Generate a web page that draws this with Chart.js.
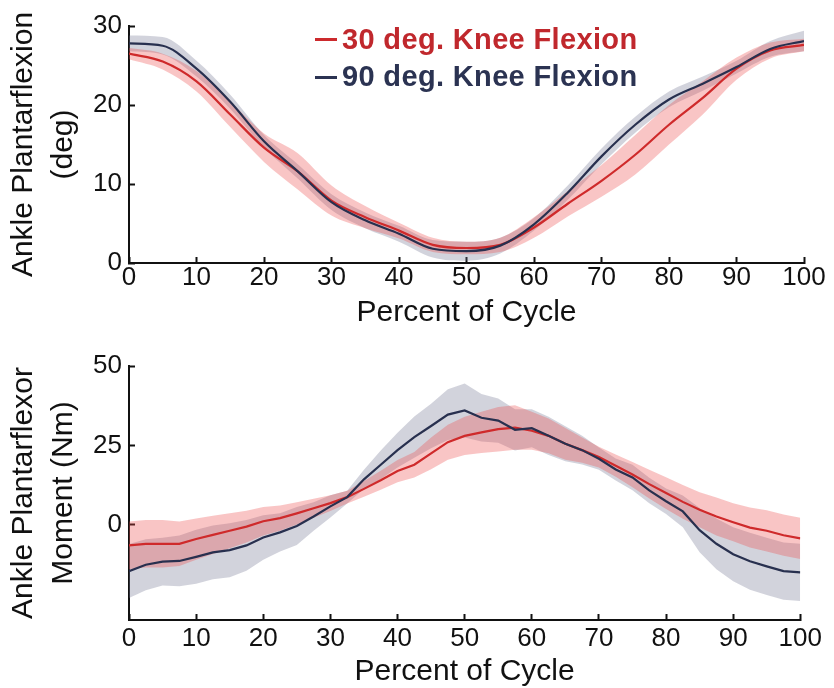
<!DOCTYPE html>
<html>
<head>
<meta charset="utf-8">
<script src="https://cdn.jsdelivr.net/npm/chart.js@4.4.0/dist/chart.umd.min.js"></script>
<style>
    body { margin: 0; background: #fff; }
    #wrap { position: relative; width: 834px; height: 688px; overflow: hidden; font-family: "Liberation Sans", Arial, sans-serif; }
    canvas { position: absolute; left: 0; }
    #top-chart { top: 0; }
    #bottom-chart { top: 340px; }
    .leg { position: absolute; left: 342px; font-weight: bold; font-size: 29px; line-height: 29px; letter-spacing: 0.35px; white-space: nowrap; }
    .mark { position: absolute; left: 315px; width: 22px; height: 3px; }
</style>
</head>
<body>
<div id="wrap">
    <canvas id="top-chart" width="834" height="340"></canvas>
    <canvas id="bottom-chart" width="834" height="348"></canvas>
    <div class="mark" style="top:38px; background:#cc2a2d"></div>
    <div class="leg" style="top:25px; color:#c0282d">30 deg. Knee Flexion</div>
    <div class="mark" style="top:76px; background:#2b3352"></div>
    <div class="leg" style="top:62px; color:#2b3352">90 deg. Knee Flexion</div>
</div>
<script>
// Percent of cycle samples
const pctTop = [0, 5, 10, 15, 20, 25, 30, 35, 40, 45, 50, 55, 60, 65, 70, 75, 80, 85, 90, 95, 100];
const pctBottom = [0, 2.5, 5, 7.5, 10, 12.5, 15, 17.5, 20, 22.5, 25, 27.5, 30, 32.5, 35, 37.5, 40, 42.5, 45, 47.5,
    50, 52.5, 55, 57.5, 60, 62.5, 65, 67.5, 70, 72.5, 75, 77.5, 80, 82.5, 85, 87.5, 90, 92.5, 95, 97.5, 100];

// Ankle plantarflexion (deg): mean and SD
const angle30 = [26.5, 25.5, 23.0, 18.8, 14.6, 11.6, 7.9, 5.8, 4.1, 2.3, 1.9, 2.3, 4.5, 7.5, 10.4, 13.7, 17.5, 20.9, 24.6, 26.9, 27.6];
const angle90 = [27.8, 27.5, 24.6, 20.4, 15.4, 11.6, 7.7, 5.4, 3.7, 1.8, 1.5, 2.2, 4.9, 8.9, 13.5, 17.5, 20.7, 22.7, 24.8, 27.1, 28.1];
const angleSd30 = [0.7, 1.0, 1.3, 1.6, 1.8, 2.3, 1.9, 1.4, 1.0, 0.9, 0.8, 0.9, 1.3, 1.6, 2.0, 2.5, 2.5, 2.1, 1.4, 1.0, 0.8];
const angleSd90 = [1.0, 1.1, 1.0, 0.9, 0.8, 0.9, 1.0, 1.0, 1.0, 1.1, 1.2, 1.0, 0.8, 0.9, 1.0, 1.0, 1.0, 0.9, 0.8, 1.0, 1.3];

// Ankle plantarflexor moment (Nm): mean and SD
const moment30 = [-6.5, -6.0, -6.0, -6.0, -4.5, -3.2, -1.9, -0.6, 1.1, 2.1, 3.6, 5.2, 6.8, 8.7, 11.3, 14.0, 16.9, 18.9, 22.5, 26.0,
    28.0, 29.1, 30.1, 30.6, 29.6, 28.0, 25.5, 23.5, 21.3, 18.6, 15.8, 12.8, 10.0, 7.2, 4.7, 2.6, 0.8, -0.9, -1.9, -3.3, -4.3];
const moment90 = [-14.6, -12.6, -11.6, -11.4, -10.1, -8.7, -8.0, -6.5, -4.0, -2.4, -0.4, 2.6, 5.8, 8.7, 14.3, 18.9, 23.5, 27.6, 31.1, 34.7,
    36.0, 33.7, 32.8, 29.9, 30.4, 28.0, 25.5, 23.5, 20.8, 17.4, 14.9, 10.8, 7.4, 4.2, -1.7, -6.0, -9.3, -11.5, -13.1, -14.6, -15.0];
const momentSd30 = [7.5, 7.5, 7.5, 7.0, 6.5, 6.0, 5.5, 5.0, 4.5, 4.0, 3.5, 3.0, 2.5, 2.0, 2.5, 3.0, 3.5, 4.0, 5.0, 5.5,
    6.0, 6.5, 7.0, 7.0, 6.0, 5.5, 5.0, 4.0, 3.3, 3.5, 4.0, 4.5, 5.0, 5.3, 5.5, 6.0, 6.0, 6.3, 6.5, 6.5, 6.5];
const momentSd90 = [8.5, 8.0, 7.5, 8.0, 8.5, 8.5, 8.5, 8.0, 7.0, 6.0, 6.0, 4.5, 3.5, 2.0, 3.0, 4.5, 5.5, 6.5, 7.0, 8.0,
    8.5, 7.5, 7.0, 6.5, 6.0, 6.0, 5.5, 4.5, 3.5, 3.5, 4.0, 4.0, 4.0, 5.0, 7.0, 8.0, 8.5, 9.0, 9.0, 9.0, 9.0];

// Tick labels
const pctTicks = [0, 10, 20, 30, 40, 50, 60, 70, 80, 90, 100];
const angleTicks = [0, 10, 20, 30];
const momentTicks = [0, 25, 50];

const RED = '#cf2a2b';
const NAVY = '#28304f';
const RED_BAND = 'rgba(235, 75, 75, 0.32)';
const NAVY_BAND = 'rgba(115, 118, 145, 0.32)';
const INK = '#111';
const FONT = '"Liberation Sans", Arial, sans-serif';

Chart.defaults.font.family = FONT;
Chart.defaults.color = INK;

const pts = (xs, ys) => xs.map((x, i) => ({ x: x, y: ys[i] }));
const shift = (ys, sd, sign) => ys.map((v, i) => v + sign * sd[i]);

function lineSet(xs, ys, color, smooth) {
    return {
        data: pts(xs, ys), borderColor: color, borderWidth: 2.2, pointRadius: 0,
        fill: false, cubicInterpolationMode: smooth ? 'monotone' : 'default', tension: 0
    };
}

function bandSets(xs, ys, sd, color, smooth) {
    const mode = smooth ? 'monotone' : 'default';
    return [
        { data: pts(xs, shift(ys, sd, 1)), borderWidth: 0, pointRadius: 0, backgroundColor: color, fill: '+1', cubicInterpolationMode: mode, tension: 0 },
        { data: pts(xs, shift(ys, sd, -1)), borderWidth: 0, pointRadius: 0, fill: false, cubicInterpolationMode: mode, tension: 0 }
    ];
}

function axisCommon() {
    return {
        border: { color: INK, width: 2 },
        grid: { drawOnChartArea: false, tickLength: -6, tickWidth: 2, tickColor: INK }
    };
}

function makeChart(id, opts) {
    const smooth = opts.smooth;
    const datasets = [
        lineSet(opts.xs, opts.mean90, NAVY, smooth),
        lineSet(opts.xs, opts.mean30, RED, smooth),
        ...bandSets(opts.xs, opts.mean30, opts.sd30, RED_BAND, smooth),
        ...bandSets(opts.xs, opts.mean90, opts.sd90, NAVY_BAND, smooth)
    ];
    return new Chart(document.getElementById(id).getContext('2d'), {
        type: 'line',
        data: { datasets: datasets },
        options: {
            responsive: false,
            animation: false,
            devicePixelRatio: 1,
            layout: { padding: { left: 0, right: 30, top: opts.padTop, bottom: 0 } },
            plugins: {
                legend: { display: false },
                tooltip: { enabled: false },
                filler: { drawTime: 'beforeDatasetsDraw' }
            },
            scales: {
                x: {
                    type: 'linear', min: 0, max: 100,
                    ...axisCommon(),
                    afterBuildTicks: s => { s.ticks = pctTicks.map(v => ({ value: v })); },
                    ticks: { font: { size: 26, lineHeight: 1 }, padding: opts.xTickPad, maxRotation: 0, autoSkip: false, color: INK },
                    title: { display: true, text: 'Percent of Cycle', color: INK, font: { size: 30, lineHeight: 1 }, padding: { top: 0, bottom: opts.xTitlePad } },
                    afterFit: s => { s.height = opts.xHeight; }
                },
                y: {
                    type: 'linear', min: opts.yMin, max: opts.yMax,
                    ...axisCommon(),
                    afterBuildTicks: s => { s.ticks = opts.yTicks.map(v => ({ value: v })); },
                    ticks: { font: { size: 26, lineHeight: 1 }, padding: 13, color: INK },
                    title: { display: true, text: opts.yTitle, color: INK, font: { size: 30, lineHeight: 1.333 }, padding: { top: 4, bottom: 0 } },
                    afterFit: s => { s.width = 129; }
                }
            }
        }
    });
}

makeChart('top-chart', {
    xs: pctTop, mean30: angle30, mean90: angle90, sd30: angleSd30, sd90: angleSd90,
    smooth: true, yMin: 0, yMax: 30, yTicks: angleTicks,
    yTitle: ['Ankle Plantarflexion', '(deg)'],
    padTop: 24, xHeight: 77, xTickPad: 7.5, xTitlePad: 12
});

makeChart('bottom-chart', {
    xs: pctBottom, mean30: moment30, mean90: moment90, sd30: momentSd30, sd90: momentSd90,
    smooth: false, yMin: -30, yMax: 50, yTicks: momentTicks,
    yTitle: ['Ankle Plantarflexor', 'Moment (Nm)'],
    padTop: 18, xHeight: 68, xTickPad: 12, xTitlePad: 1
});
</script>
</body>
</html>
